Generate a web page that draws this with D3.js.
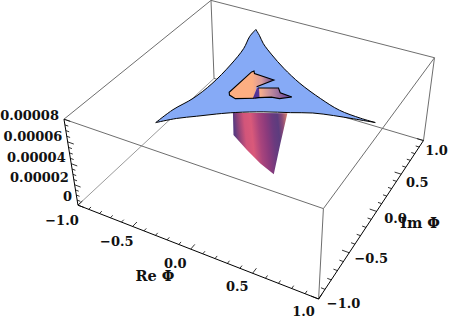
<!DOCTYPE html>
<html>
<head>
<meta charset="utf-8">
<script src="https://d3js.org/d3.v7.min.js"></script>
<style>
body { margin: 0; background: #fff; }
text { font-family: "DejaVu Serif", serif; font-weight: bold; font-size: 13px; fill: #111; }
text.title { font-size: 14.5px; }
</style>
</head>
<body>
<div id="chart"></div>
<script>
// edges of the blue plateau (Re, Im)
var rightRe = [-0.42, -0.35, -0.26, -0.12, 0.05, 0.25, 0.47, 0.65, 0.82, 0.93];
var rightIm = [0.74, 0.67, 0.57, 0.45, 0.32, 0.19, 0.08, 0.01, -0.01, -0.01];
var lowerRe = [0.93, 0.78, 0.64, 0.50, 0.36, 0.19, 0.02, -0.09, -0.20, -0.31, -0.41];
var lowerIm = [-0.01, -0.04, -0.07, -0.11, -0.18, -0.26, -0.36, -0.44, -0.53, -0.62, -0.73];
var leftRe = [-0.41, -0.39, -0.34, -0.32, -0.33, -0.36, -0.41, -0.42];
var leftIm = [-0.73, -0.54, -0.35, -0.12, 0.17, 0.43, 0.62, 0.74];

// the hole in the plateau
var holeRe = [-0.15, -0.14, -0.13, -0.11, 0.06, -0.01, 0.05, -0.07, -0.13];
var holeIm = [-0.16, 0.16, 0.18, 0.15, 0.14, 0.00, -0.14, -0.21, -0.19];
var tongueRe = [0.01, 0.14, 0.18, 0.28, 0.21, 0.15, 0.07];
var tongueIm = [-0.01, 0.06, 0.01, 0.00, -0.06, -0.07, -0.12];
var foldRe = [0.04, 0.00, 0.01, 0.08];
var foldIm = [-0.15, -0.01, 0.00, -0.12];

// sheet hanging under the plateau, at Im = sheetIm
var sheetIm = -0.35;
var sheetRe = [-0.01, -0.01, 0.10, 0.21, 0.32, 0.37, 0.42];
var sheetZ = [0.0000781, 0.0000584, 0.0000486, 0.0000404, 0.0000345, 0.0000643, 0.000092];

var reTicks = [-1.0, -0.5, 0.0, 0.5, 1.0];
var reLabels = ["\u22121.0", "\u22120.5", "0.0", "0.5", "1.0"];
var imTicks = [-1.0, -0.5, 0.0, 0.5, 1.0];
var imLabels = ["\u22121.0", "\u22120.5", "0.0", "0.5", "1.0"];
var zTicks = [0, 0.00002, 0.00004, 0.00006, 0.00008];
var zLabels = ["0", "0.00002", "0.00004", "0.00006", "0.00008"];

var sheetOffsets = [0, 0.07, 0.19, 0.31, 0.45, 0.58, 0.70, 0.80, 0.88, 1];
var sheetColors = ["#5b3b80", "#8d4279", "#d2557a", "#d9597a", "#a9447c", "#8b3a7c", "#6a3a7e", "#5c3c7e", "#8a4a78", "#e38a6a"];
var holeOffsets = [0, 0.5, 0.72, 1];
var holeColors = ["#fdae82", "#fdae82", "#d79a9c", "#5f4390"];
var tongueOffsets = [0, 0.3, 1];
var tongueColors = ["#fbb08a", "#c8909c", "#54399a"];
var foldColors = ["#4f3296", "#6a3f9e"];

var width = 450, height = 322;
var zTop = 0.00008;

var svg = d3.select("#chart").append("svg")
    .attr("width", width)
    .attr("height", height);

var sx = d3.scaleLinear().domain([-1, 1]).range([-1, 1]);
var sy = d3.scaleLinear().domain([-1, 1]).range([-1, 1]);
var sz = d3.scaleLinear().domain([0, zTop]).range([0, 1]);

// camera of the plot box
var cam = [97.08018, 86.46815, -17.68327, 258.15410,
           27.95920, -52.81910, -90.25584, 171.44423,
           -0.05672, 0.09976, -0.06714];

function project(re, im, z) {
    var X = sx(re), Y = sy(im), Z = sz(z);
    var w = cam[8] * X + cam[9] * Y + cam[10] * Z + 1;
    return [(cam[0] * X + cam[1] * Y + cam[2] * Z + cam[3]) / w,
            (cam[4] * X + cam[5] * Y + cam[6] * Z + cam[7]) / w];
}

function edge(a, b, col, w) {
    var p = project(a[0], a[1], a[2]), q = project(b[0], b[1], b[2]);
    svg.append("line")
        .attr("x1", p[0]).attr("y1", p[1])
        .attr("x2", q[0]).attr("y2", q[1])
        .attr("stroke", col)
        .attr("stroke-width", w);
}

function gradient(id, a, b, offsets, colors) {
    var p = project(a[0], a[1], a[2]), q = project(b[0], b[1], b[2]);
    var g = svg.append("linearGradient")
        .attr("id", id)
        .attr("gradientUnits", "userSpaceOnUse")
        .attr("x1", p[0]).attr("y1", p[1])
        .attr("x2", q[0]).attr("y2", q[1]);
    offsets.forEach(function (o, i) {
        g.append("stop").attr("offset", o).attr("stop-color", colors[i]);
    });
}

gradient("sheetFill", [-0.01, sheetIm, 0.0000781], [0.42, sheetIm, 0.000097], sheetOffsets, sheetColors);
gradient("holeFill", [-0.22, -0.02, zTop], [0.06, 0.14, zTop], holeOffsets, holeColors);
gradient("tongueFill", [0.08, -0.117, zTop], [0.28, 0, zTop], tongueOffsets, tongueColors);
gradient("foldFill", [0.0, -0.05, zTop], [0.08, 0, zTop], [0, 1], foldColors);

var line = d3.line();
var curve = d3.line().curve(d3.curveCatmullRom.alpha(0.5));

function onTop(re, im) {
    return re.map(function (r, i) { return project(r, im[i], zTop); });
}

// box, back part
var boxGrey = "#6e6e6e";
edge([-1, -1, 0], [-1, 1, 0], "#808080", 0.8);
edge([-1, 1, 0], [1, 1, 0], boxGrey, 1);
edge([-1, 1, 0], [-1, 1, zTop], boxGrey, 1);
edge([-1, -1, zTop], [-1, 1, zTop], boxGrey, 1);
edge([-1, 1, zTop], [1, 1, zTop], boxGrey, 1);

// sheet below plateau
var sheetPts = sheetRe.map(function (r, i) { return project(r, sheetIm, sheetZ[i]); });
svg.append("path")
    .attr("d", line(sheetPts) + "Z")
    .attr("fill", "url(#sheetFill)");

// plateau
var plateau = curve(onTop(rightRe, rightIm)) +
    curve(onTop(lowerRe, lowerIm)).replace(/^M[^C]*/, "") +
    curve(onTop(leftRe, leftIm)).replace(/^M[^C]*/, "") + "Z";
svg.append("path")
    .attr("d", plateau)
    .attr("fill", "#86aaf6")
    .attr("stroke", "#000")
    .attr("stroke-width", 1)
    .attr("stroke-linejoin", "miter")
    .attr("stroke-miterlimit", 12);

// hole: fills first, the black rim after
var holePts = onTop(holeRe, holeIm);
var tonguePts = onTop(tongueRe, tongueIm);
var foldPts = onTop(foldRe, foldIm);
svg.append("path").attr("d", line(holePts) + "Z").attr("fill", "url(#holeFill)");
svg.append("path").attr("d", line(tonguePts) + "Z").attr("fill", "url(#tongueFill)");
svg.append("path").attr("d", line(foldPts) + "Z").attr("fill", "url(#foldFill)");

var rimA = holePts.slice(6).concat(holePts.slice(0, 6));
var rimB = tonguePts.concat([holePts[6]]);
[rimA, rimB].forEach(function (rim) {
    svg.append("path")
        .attr("d", line(rim))
        .attr("fill", "none")
        .attr("stroke", "#000")
        .attr("stroke-width", 1.1);
});

// box, front part
edge([-1, -1, zTop], [1, -1, zTop], boxGrey, 1);
edge([1, -1, zTop], [1, 1, zTop], boxGrey, 1);
edge([1, -1, 0], [1, -1, zTop], boxGrey, 1);
edge([1, 1, 0], [1, 1, zTop], boxGrey, 1);

// axes
edge([-1, -1, 0], [1, -1, 0], "#000", 1);
edge([1, -1, 0], [1, 1, 0], "#000", 1);
edge([-1, -1, 0], [-1, -1, zTop], "#000", 1);

function isMajor(v, list) {
    return list.some(function (t) { return Math.abs(t - v) < 1e-9; });
}

sx.ticks(20).forEach(function (v) {
    var len = isMajor(v, reTicks) ? 0.055 : 0.03;
    edge([v, -1, 0], [v, -1 + len, 0], "#000", 0.8);
});
sy.ticks(20).forEach(function (v) {
    var len = isMajor(v, imTicks) ? 0.055 : 0.03;
    edge([1, v, 0], [1 - len, v, 0], "#000", 0.8);
});
sz.ticks(16).forEach(function (v) {
    var len = isMajor(v, zTicks) ? 0.055 : 0.03;
    edge([-1, -1, v], [-1 + len, -1, v], "#000", 0.8);
});

// tick labels, offset grows along each axis
var reOffset = d3.scaleLinear().domain([-1, 1]).range([[-16, 15], [-15, 12.5]]);
var imOffset = d3.scaleLinear().domain([-1, 1]).range([[25, 4], [13, 10]]);
var zOffset = d3.scaleLinear().domain([0, zTop]).range([[-6, -9], [-5, -4]]);

function tickLabels(cls, ticks, labels, pos, off, anchor) {
    svg.selectAll("text." + cls)
        .data(ticks)
        .enter()
        .append("text")
        .attr("class", cls)
        .attr("x", function (d) { return pos(d)[0] + off(d)[0]; })
        .attr("y", function (d) { return pos(d)[1] + off(d)[1]; })
        .attr("dy", "0.36em")
        .attr("text-anchor", anchor)
        .text(function (d, i) { return labels[i]; });
}

tickLabels("re", reTicks, reLabels, function (d) { return project(d, -1, 0); }, reOffset, "middle");
tickLabels("im", imTicks, imLabels, function (d) { return project(1, d, 0); }, imOffset, "middle");
tickLabels("zt", zTicks, zLabels, function (d) { return project(-1, -1, d); }, zOffset, "end");

svg.append("text").attr("class", "title").attr("x", 155).attr("y", 276).attr("dy", "0.36em")
    .attr("text-anchor", "middle").text("Re \u03a6");
svg.append("text").attr("class", "title").attr("x", 420).attr("y", 223).attr("dy", "0.36em")
    .attr("text-anchor", "middle").text("Im \u03a6");
</script>
</body>
</html>
